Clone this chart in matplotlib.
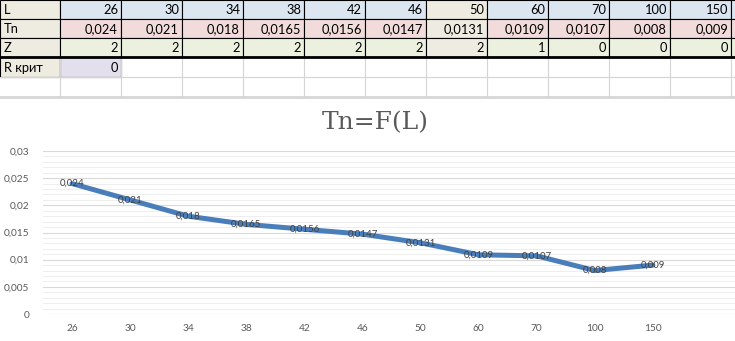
import numpy as np
import matplotlib.pyplot as plt
from matplotlib.patches import Rectangle

# table / chart data
L = [26, 30, 34, 38, 42, 46, 50, 60, 70, 100, 150]
Tn = [0.024, 0.021, 0.018, 0.0165, 0.0156, 0.0147, 0.0131, 0.0109, 0.0107, 0.008, 0.009]
Z = [2, 2, 2, 2, 2, 2, 2, 1, 0, 0, 0]
R_krit = 0
row_labels = ['L', 'Tn', 'Z', 'R крит']

W, H = 735, 341
FONT = 'Lato'
TFS = 9.3


def fmt(v):
	return str(v).replace('.', ',')


def main():
	fig = plt.figure(figsize=(W / 100, H / 100), dpi=100)

	# ---- spreadsheet part (pixel coordinates) ----
	tab = fig.add_axes([0, 0, 1, 1])
	tab.set_xlim(0, W)
	tab.set_ylim(H, 0)
	tab.axis('off')

	col_w = 61
	x0 = 60
	row_y = [0, 19, 38, 57, 77, 96]
	fills = ['#dce6f1', '#f2dcdb', '#ebf1de']
	beige = '#eeece1'
	grid = '#d4d4d4'

	rows = [L, [fmt(v) for v in Tn], Z]
	for r in range(3):
		y1, y2 = row_y[r], row_y[r + 1]
		tab.add_patch(Rectangle((0, y1), x0, y2 - y1, fc=beige, ec='black', lw=0.8))
		tab.text(4, (y1 + y2) / 2 + 0.5, row_labels[r], ha='left', va='center',
				 fontsize=TFS, family=FONT, color='black')
		for i, v in enumerate(rows[r]):
			fc = beige if L[i] == 50 else fills[r]
			xl = x0 + i * col_w
			tab.add_patch(Rectangle((xl, y1), col_w, y2 - y1, fc=fc, ec='black', lw=0.8))
			tab.text(xl + col_w - 3, (y1 + y2) / 2 + 0.5, str(v), ha='right', va='center',
					 fontsize=TFS, family=FONT, color='black')
		# partial column at the right edge
		xl = x0 + len(L) * col_w
		tab.add_patch(Rectangle((xl, y1), col_w, y2 - y1, fc=fills[r], ec='black', lw=0.8))

	# R крит row and empty row
	y1, y2 = row_y[3], row_y[4]
	for xv in [x0 + i * col_w for i in range(len(L) + 1)]:
		tab.plot([xv, xv], [row_y[3], row_y[5]], color=grid, lw=0.8)
	tab.plot([0, W], [row_y[4], row_y[4]], color=grid, lw=0.8)
	tab.add_patch(Rectangle((0, y1), x0, y2 - y1, fc=beige, ec='black', lw=0.8))
	tab.text(4, (y1 + y2) / 2 + 0.5, row_labels[3], ha='left', va='center',
			 fontsize=TFS, family=FONT, color='black')
	tab.add_patch(Rectangle((x0, y1), col_w, y2 - y1, fc='#e4dfec', ec='black', lw=0.8))
	tab.text(x0 + col_w - 3, (y1 + y2) / 2 + 0.5, str(R_krit), ha='right', va='center',
			 fontsize=TFS, family=FONT, color='black')
	tab.plot([0, W], [row_y[3], row_y[3]], color='black', lw=2)
	tab.add_patch(Rectangle((0, 96), W, 2.5, fc='#d9d9d9', ec='none'))

	# ---- chart ----
	ax = fig.add_axes([43 / W, 1 - 314 / H, 697 / W, 163 / H])
	x = np.arange(len(L))
	ax.plot(x, Tn, color='#4a7ebb', lw=3.6, solid_capstyle='round', zorder=3)
	for xi, v in zip(x, Tn):
		ax.text(xi, v, fmt(v), ha='center', va='center', fontsize=7,
				family=FONT, color='#404040', zorder=4)

	ax.set_xlim(-0.5, 11.5)
	ax.set_ylim(0, 0.03)
	ax.set_yticks(np.arange(0, 0.0301, 0.005))
	ax.set_yticks(np.arange(0, 0.0301, 0.001), minor=True)
	ax.set_yticklabels(['0' if t == 0 else fmt(round(t, 3)) for t in np.arange(0, 0.0301, 0.005)])
	ax.set_xticks(x)
	ax.set_xticklabels([str(v) for v in L])
	ax.grid(axis='y', which='major', color='#d9d9d9', lw=0.8)
	ax.grid(axis='y', which='minor', color='#eeeeee', lw=0.7)
	ax.tick_params(axis='both', which='both', length=0, labelsize=7.3,
				   labelcolor='#595959')
	ax.tick_params(axis='y', pad=10)
	ax.tick_params(axis='x', pad=7)
	for lab in ax.get_xticklabels() + ax.get_yticklabels():
		lab.set_family(FONT)
	for s in ax.spines.values():
		s.set_visible(False)
	ax.set_axisbelow(True)

	fig.text(375 / W, 1 - 123 / H, 'Tn=F(L)', ha='center', va='center',
			 fontsize=18, family='DejaVu Serif', color='#595959')

	plt.savefig('out.png', dpi=100)


if __name__ == '__main__':
	main()
